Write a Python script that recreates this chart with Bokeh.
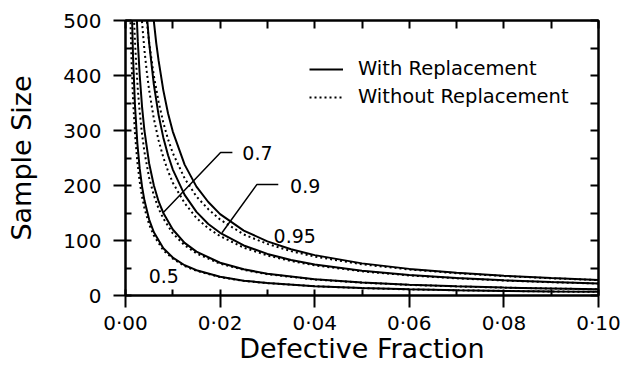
from bokeh.plotting import figure
from bokeh.models import (LinearAxis, FixedTicker, Legend, LegendItem, Range1d,
                          ColumnDataSource)
from bokeh.core.properties import value
from bokeh.embed import file_html
from bokeh.resources import INLINE

# ---------------- data ----------------
# confidence 0.5
c05_with_x = [0.0013, 0.0016, 0.002, 0.0025, 0.003, 0.0035, 0.004, 0.005, 0.006, 0.008, 0.010,
              0.0125, 0.015, 0.02, 0.025, 0.03, 0.04, 0.05, 0.06, 0.07, 0.08, 0.09, 0.10]
c05_with_y = [533, 433, 346, 277, 231, 198, 173, 138, 115, 86, 69,
              55, 46, 34, 27, 22.8, 17, 13.5, 11.2, 9.6, 8.3, 7.3, 6.6]
c05_without_x = [0.001, 0.0013, 0.0016, 0.002, 0.0025, 0.003, 0.0035, 0.004, 0.005, 0.006, 0.008,
                 0.010, 0.0125, 0.015, 0.02, 0.025, 0.03, 0.04, 0.05, 0.06, 0.07, 0.08, 0.09, 0.10]
c05_without_y = [515, 421, 356, 295, 243, 207, 180, 159, 129, 109, 82,
                 67, 53.5, 45, 33.4, 26.6, 22.5, 16.8, 13.4, 11.1, 9.5, 8.3, 7.3, 6.6]
# confidence 0.7
c07_with_x = [0.0023, 0.0026, 0.003, 0.0035, 0.004, 0.005, 0.006, 0.007, 0.008, 0.010, 0.0125,
              0.015, 0.02, 0.025, 0.03, 0.04, 0.05, 0.06, 0.07, 0.08, 0.09, 0.10]
c07_with_y = [523, 462, 401, 343, 300, 240, 200, 171, 150, 120, 95.7,
              79.7, 59.6, 47.6, 39.5, 29.5, 23.5, 19.5, 16.6, 14.4, 12.8, 11.4]
c07_without_x = [0.0017, 0.002, 0.0023, 0.0026, 0.003, 0.0035, 0.004, 0.005, 0.006, 0.007, 0.008,
                 0.010, 0.0125, 0.015, 0.02, 0.025, 0.03, 0.04, 0.05, 0.06, 0.07, 0.08, 0.09, 0.10]
c07_without_y = [523, 462, 415, 375, 334, 293, 261, 214, 182, 158, 140,
                 113, 91.3, 76.6, 57.9, 46.5, 38.7, 29.1, 23.3, 19.3, 16.5, 14.3, 12.7, 11.3]
# confidence 0.9
c09_with_x = [0.0045, 0.005, 0.006, 0.007, 0.008, 0.009, 0.010, 0.0125, 0.015, 0.0175, 0.02,
              0.025, 0.03, 0.035, 0.04, 0.05, 0.06, 0.07, 0.08, 0.09, 0.10]
c09_with_y = [511, 459, 383, 328, 287, 255, 229, 183, 152, 130, 114,
              91, 75.6, 64.6, 56.4, 44.9, 37.2, 31.7, 27.6, 24.4, 21.9]
c09_without_x = [0.0033, 0.004, 0.0045, 0.005, 0.006, 0.007, 0.008, 0.009, 0.010, 0.0125, 0.015,
                 0.0175, 0.02, 0.025, 0.03, 0.035, 0.04, 0.05, 0.06, 0.07, 0.08, 0.09, 0.10]
c09_without_y = [517, 446, 407, 373, 321, 282, 251, 226, 205, 168, 141,
                 122, 108, 87, 72.8, 62.6, 54.9, 43.9, 36.5, 31.2, 27.2, 24.1, 21.7]
# confidence 0.95
c095_with_x = [0.0059, 0.0065, 0.007, 0.008, 0.009, 0.010, 0.0125, 0.015, 0.0175, 0.02,
               0.025, 0.03, 0.035, 0.04, 0.05, 0.06, 0.07, 0.08, 0.09, 0.10]
c095_with_y = [506, 459, 427, 373, 331, 298, 238, 198, 170, 148,
               118, 98.4, 84.1, 73.4, 58.4, 48.4, 41.3, 35.9, 31.8, 28.4]
c095_without_x = [0.0043, 0.005, 0.006, 0.007, 0.008, 0.009, 0.010, 0.0125, 0.015, 0.0175, 0.02,
                  0.025, 0.03, 0.035, 0.04, 0.05, 0.06, 0.07, 0.08, 0.09, 0.10]
c095_without_y = [516, 460, 399, 352, 314, 284, 259, 213, 180, 157, 138,
                  111, 93.8, 80.7, 70.8, 56.7, 47.3, 40.5, 35.3, 31.3, 28.0]

# curve labels and their leader lines (data coordinates)
curve_label_text = ["0.5", "0.7", "0.9", "0.95"]
curve_label_x = [0.0049, 0.0247, 0.0348, 0.0313]
curve_label_y = [35, 259, 199, 109]
leader_07_x = [0.0080, 0.0201, 0.0226]
leader_07_y = [151, 260, 260]
leader_09_x = [0.0204, 0.0278, 0.0323]
leader_09_y = [114, 202, 202]

# axes ticks
x_ticks = [0.0, 0.02, 0.04, 0.06, 0.08, 0.10]
x_tick_labels = ["0\u00b700", "0\u00b702", "0\u00b704", "0\u00b706", "0\u00b708", "0\u00b710"]
x_minor = [0.01, 0.03, 0.05, 0.07, 0.09]
x_top_ticks = [0.0, 0.01, 0.02, 0.03, 0.04, 0.05, 0.06, 0.07, 0.08, 0.09, 0.10]
y_ticks = [0, 100, 200, 300, 400, 500]
y_minor = [50, 150, 250, 350, 450]
y_right_ticks = [0, 50, 100, 150, 200, 250, 300, 350, 400, 450, 500]

FONT = "DejaVu Sans"

p = figure(width=624, height=366, x_range=Range1d(0, 0.10), y_range=Range1d(0, 500),
           output_backend="svg", toolbar_location=None,
           x_axis_location=None, y_axis_location=None,
           min_border_left=125, min_border_right=26, min_border_top=20, min_border_bottom=71)
p.grid.visible = False
p.outline_line_color = "black"
p.outline_line_width = 2
p.background_fill_color = "white"
p.border_fill_color = "white"

# bottom axis
xb = LinearAxis(ticker=FixedTicker(ticks=x_ticks, minor_ticks=x_minor),
                major_label_overrides=dict(zip(x_ticks, x_tick_labels)),
                axis_label="Defective Fraction")
# left axis
yl = LinearAxis(ticker=FixedTicker(ticks=y_ticks, minor_ticks=y_minor), axis_label="Sample Size")
for ax in (xb, yl):
    ax.axis_line_width = 2
    ax.axis_line_color = "black"
    ax.major_tick_line_width = 2
    ax.minor_tick_line_width = 2
    ax.major_tick_line_color = "black"
    ax.minor_tick_line_color = "black"
    ax.major_tick_out = 12
    ax.major_tick_in = 6
    ax.minor_tick_in = 6
    ax.minor_tick_out = 0
    ax.major_label_text_font = FONT
    ax.major_label_text_font_size = "20px"
    ax.major_label_text_color = "black"
    ax.axis_label_text_font = FONT
    ax.axis_label_text_font_size = "27px"
    ax.axis_label_text_font_style = "normal"
    ax.axis_label_text_color = "black"
xb.major_label_standoff = 3
xb.axis_label_standoff = -5
yl.major_label_standoff = 12
yl.axis_label_standoff = 23
p.add_layout(xb, "below")
p.add_layout(yl, "left")

# top and right axes: inward ticks only
xt = LinearAxis(ticker=FixedTicker(ticks=x_top_ticks))
yr = LinearAxis(ticker=FixedTicker(ticks=y_right_ticks))
for ax in (xt, yr):
    ax.axis_line_width = 2
    ax.major_tick_line_width = 2
    ax.major_tick_in = 8
    ax.major_tick_out = 0
    ax.minor_tick_in = 0
    ax.minor_tick_out = 0
    ax.major_label_text_font_size = "0px"
    ax.major_label_standoff = 0
    ax.major_label_text_alpha = 0
p.add_layout(xt, "above")
p.add_layout(yr, "right")

# curves
solid_kw = dict(line_color="black", line_width=2)
dot_kw = dict(line_color="black", line_width=2, line_dash="2 3")
r_solid = p.line(c05_with_x, c05_with_y, **solid_kw)
p.line(c07_with_x, c07_with_y, **solid_kw)
p.line(c09_with_x, c09_with_y, **solid_kw)
p.line(c095_with_x, c095_with_y, **solid_kw)
r_dot = p.line(c05_without_x, c05_without_y, **dot_kw)
p.line(c07_without_x, c07_without_y, **dot_kw)
p.line(c09_without_x, c09_without_y, **dot_kw)
p.line(c095_without_x, c095_without_y, **dot_kw)

# leaders and labels
p.line(leader_07_x, leader_07_y, line_color="black", line_width=1.5)
p.line(leader_09_x, leader_09_y, line_color="black", line_width=1.5)
lab_src = ColumnDataSource(dict(x=curve_label_x, y=curve_label_y, t=curve_label_text))
p.text(x="x", y="y", text="t", source=lab_src, text_font=value(FONT), text_font_size="19px",
       text_align="left", text_baseline="middle", text_color="black")

legend = Legend(items=[LegendItem(label="With Replacement", renderers=[r_solid]),
                       LegendItem(label="Without Replacement", renderers=[r_dot])],
                location=(184, 187), border_line_color=None, background_fill_alpha=0,
                padding=0, margin=0, spacing=5, glyph_width=34, glyph_height=20,
                label_height=20, label_standoff=15, label_text_font=FONT,
                label_text_font_size="19.5px", label_text_color="black")
p.add_layout(legend)

open("out.html", "w").write(file_html(p, INLINE))
